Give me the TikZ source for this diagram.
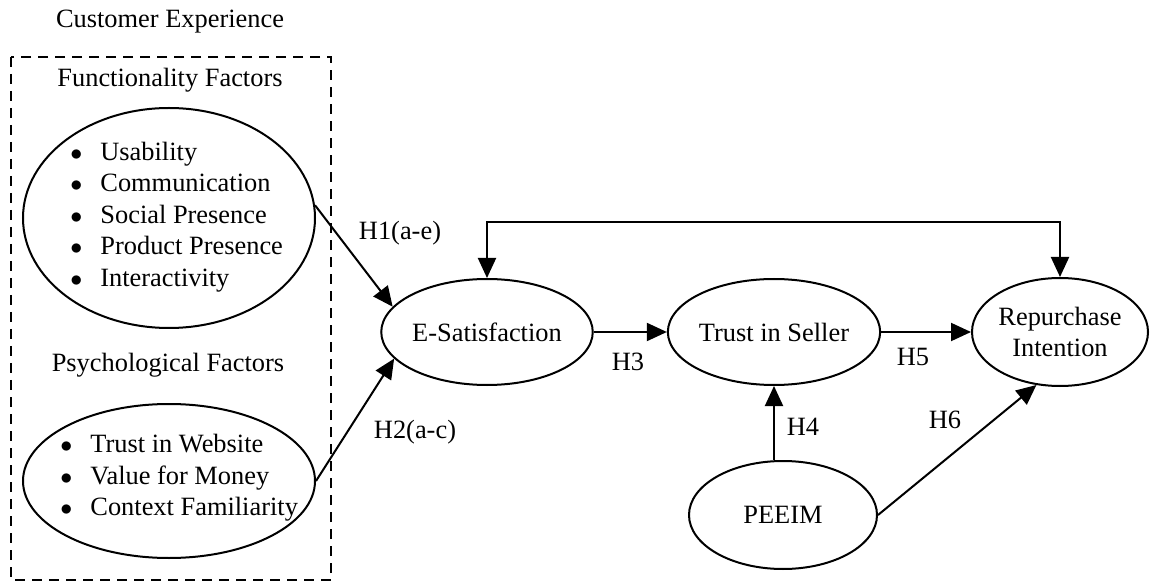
\documentclass[tikz,border=0pt]{standalone}
\usepackage{fontspec}
\setmainfont{Liberation Serif}
\usetikzlibrary{arrows.meta,shapes.geometric}
\begin{document}
\begin{tikzpicture}[x=0.5pt,y=-0.5pt,
  font=\fontsize{13.2}{15.8}\selectfont,
  ell/.style={draw, ellipse, line width=1pt, inner sep=0pt, align=center},
  arr/.style={line width=1pt, -{Triangle[length=10pt,width=9pt]}},
  dbl/.style={line width=1pt, {Triangle[length=10pt,width=9pt]}-{Triangle[length=10pt,width=9pt]}},
  lbl/.style={inner sep=0pt},
  boxline/.style={line width=1pt, dash pattern=on 5pt off 3.5pt}]
\useasboundingbox (0,0) rectangle (1150,582);

% outer dashed group
\node[lbl] (ce) at (170,22) {Customer Experience};
\draw[boxline] (11,57) rectangle (331,580);
\node[lbl] (ff) at (170,80) {Functionality Factors};
\node[lbl] (pf) at (168,365) {Psychological Factors};

\node[ell, minimum width=146pt, minimum height=110pt] (func) at (169,218) {};
\node[lbl, anchor=west] (funclist) at (70,217) {\begin{tabular}{@{}c@{\hspace{9pt}}l@{}}
$\bullet$ & Usability\\
$\bullet$ & Communication\\
$\bullet$ & Social Presence\\
$\bullet$ & Product Presence\\
$\bullet$ & Interactivity
\end{tabular}};

\node[ell, minimum width=146pt, minimum height=77pt] (psy) at (169,481) {};
\node[lbl, anchor=west] (psylist) at (60,478) {\begin{tabular}{@{}c@{\hspace{9pt}}l@{}}
$\bullet$ & Trust in Website\\
$\bullet$ & Value for Money\\
$\bullet$ & Context Familiarity
\end{tabular}};

% constructs
\node[ell, minimum width=94pt, minimum height=53pt] (esat) at (487,332) {E-Satisfaction};
\node[ell, minimum width=94pt, minimum height=53pt] (trust) at (774,332) {Trust in Seller};
\node[ell, minimum width=88pt, minimum height=54pt] (rep) at (1060,332) {Repurchase\\Intention};
\node[ell, minimum width=94pt, minimum height=54pt] (peeim) at (783,515) {PEEIM};

% connectors
\draw[arr] (func.5) -- (esat.165);
\draw[arr] (psy.east) -- (esat.196);
\draw[arr] (esat.east) -- (trust.west);
\draw[arr] (trust.east) -- (rep.west);
\draw[arr] (peeim.north -| trust.south) -- (trust.south);
\draw[arr] (peeim.east) -- (rep.246);
\coordinate (fb) at (700,222);
\draw[dbl] (esat.north) -- (esat.north |- fb) -- (rep.north |- fb) -- (rep.north);

% labels
\node[lbl] (h1) at (400,233) {H1(a-e)};
\node[lbl] (h2) at (415,432) {H2(a-c)};
\node[lbl] (h3) at (628,362) {H3};
\node[lbl] (h4) at (803,427) {H4};
\node[lbl] (h5) at (913,357) {H5};
\node[lbl] (h6) at (945,420) {H6};
\end{tikzpicture}
\end{document}
